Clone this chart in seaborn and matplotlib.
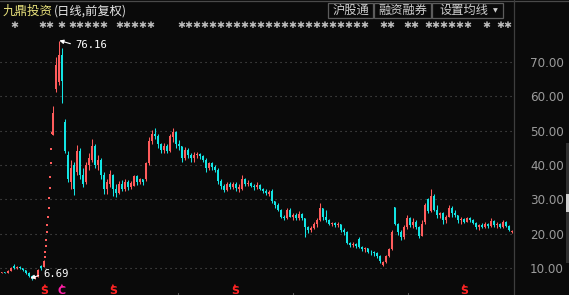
import numpy as np
import pandas as pd
import matplotlib
matplotlib.use("Agg")
import matplotlib.pyplot as plt
import seaborn as sns
from matplotlib.patches import Rectangle
from matplotlib.lines import Line2D

nan = float("nan")

# ---- data: one candle per slot (slots 15-16 are the run of limit-up days) ----
opens = [8.6, 8.8, 8.7, 9.2, 10.8, 10.0, 10.4, 10.1, 9.4, 8.6,
         7.8, 7.2, 7.5, 10.6, 10.5, nan, nan, 48.7, 62.0, 64.0,
         72.0, 52.5, 43.0, 35.0, 40.0, 38.0, 44.0, 37.0, 35.0, 40.0,
         41.5, 45.5, 40.0, 41.5, 37.0, 33.0, 34.5, 37.0, 33.0, 32.0,
         34.5, 33.0, 35.0, 33.5, 34.0, 36.8, 35.0, 35.8, 36.0, 40.5,
         47.0, 49.0, 48.5, 46.0, 44.5, 45.5, 44.0, 48.0, 49.5, 46.0,
         45.5, 42.0, 44.5, 43.0, 42.0, 43.0, 43.2, 42.5, 41.5, 39.0,
         40.5, 39.5, 38.5, 35.5, 34.0, 32.8, 34.5, 33.5, 34.5, 33.0,
         33.0, 36.0, 34.5, 34.8, 34.0, 33.5, 34.3, 33.0, 32.5, 31.5,
         32.5, 29.5, 28.5, 27.0, 25.0, 24.5, 27.0, 25.0, 25.5, 24.5,
         25.8, 24.5, 22.0, 21.0, 21.8, 23.0, 24.0, 27.5, 25.0, 24.0,
         23.0, 23.2, 22.5, 22.8, 21.0, 20.5, 17.3, 16.8, 17.2, 18.5,
         16.3, 15.5, 15.8, 14.8, 14.6, 14.3, 13.6, 11.0, 11.8, 13.5,
         15.5, 27.8, 23.0, 20.5, 19.0, 22.0, 24.5, 22.5, 23.5, 22.0,
         19.5, 23.5, 30.0, 26.5, 31.0, 27.0, 25.5, 26.0, 24.0, 25.0,
         27.5, 26.0, 25.5, 24.0, 24.3, 23.5, 24.5, 24.0, 23.2, 22.0,
         22.5, 22.0, 22.8, 22.2, 23.8, 22.5, 22.8, 22.0, 23.5, 22.3,
         20.4]

closes = [8.8, 8.7, 9.2, 10.0, 10.0, 10.4, 10.1, 9.4, 8.6, 7.8,
          7.3, 7.5, 9.5, 10.0, 12.1, nan, nan, 55.0, 69.0, 72.0,
          64.5, 44.0, 36.0, 39.0, 33.0, 44.0, 37.0, 34.5, 40.0, 42.0,
          45.5, 40.0, 41.5, 37.0, 33.0, 35.0, 37.5, 33.0, 32.0, 34.5,
          33.0, 35.0, 33.5, 34.8, 36.8, 35.0, 35.8, 35.0, 40.5, 47.0,
          49.0, 48.5, 46.0, 44.5, 45.5, 44.0, 48.5, 49.5, 46.0, 45.5,
          42.0, 44.5, 43.0, 42.0, 43.0, 43.2, 42.5, 41.5, 39.0, 40.5,
          39.5, 38.5, 35.5, 34.0, 32.8, 34.5, 33.5, 34.5, 33.2, 33.5,
          36.0, 34.5, 34.8, 34.0, 33.5, 34.3, 33.0, 32.5, 32.0, 32.3,
          29.5, 28.5, 27.0, 25.0, 24.5, 27.0, 25.0, 25.5, 24.5, 25.8,
          24.5, 22.0, 21.0, 21.8, 23.0, 24.0, 27.5, 25.0, 24.0, 23.0,
          23.2, 22.5, 22.8, 21.0, 20.5, 17.3, 16.8, 17.2, 16.6, 16.3,
          15.5, 15.8, 14.8, 14.6, 14.3, 13.6, 12.0, 11.8, 13.5, 15.5,
          20.5, 23.0, 20.5, 19.0, 22.0, 24.5, 22.5, 23.5, 22.0, 19.5,
          23.0, 28.5, 26.5, 31.0, 27.0, 25.5, 26.0, 24.0, 25.0, 27.5,
          26.0, 25.5, 24.0, 24.3, 23.5, 24.5, 24.0, 23.2, 22.0, 22.5,
          22.0, 22.8, 22.2, 23.8, 22.5, 22.8, 22.0, 23.5, 22.3, 21.2,
          20.8]

highs = [9.0, 9.0, 9.4, 10.3, 11.2, 10.6, 10.6, 10.2, 9.5, 8.8,
         8.0, 7.7, 9.8, 11.0, 12.4, nan, nan, 57.2, 71.5, 76.16,
         74.0, 53.4, 44.0, 41.5, 41.0, 45.8, 45.0, 39.0, 41.0, 43.5,
         47.5, 46.0, 43.0, 42.0, 38.0, 36.0, 38.5, 37.5, 34.5, 35.5,
         35.6, 35.8, 35.6, 35.5, 37.2, 37.0, 36.2, 36.0, 41.0, 48.0,
         50.2, 50.8, 49.0, 46.5, 46.4, 46.0, 49.0, 50.8, 49.8, 47.3,
         45.5, 45.2, 45.0, 43.5, 43.8, 43.8, 43.5, 43.0, 42.0, 41.0,
         41.0, 40.0, 39.0, 36.0, 34.5, 35.0, 35.0, 35.0, 35.0, 34.5,
         37.0, 36.2, 35.6, 35.2, 34.5, 35.0, 34.5, 33.3, 33.0, 32.8,
         33.0, 29.5, 29.0, 27.3, 25.5, 27.5, 27.5, 26.0, 26.0, 26.5,
         26.0, 24.5, 22.3, 22.3, 23.5, 24.5, 29.0, 27.5, 26.9, 24.2,
         23.5, 23.4, 23.4, 23.0, 21.7, 20.7, 17.5, 17.5, 17.4, 19.0,
         16.5, 16.2, 16.0, 15.2, 15.0, 14.7, 13.8, 12.0, 14.0, 16.0,
         21.0, 27.8, 23.2, 21.0, 22.5, 25.5, 25.0, 24.5, 24.0, 22.2,
         24.0, 29.0, 30.4, 33.0, 31.5, 28.4, 26.3, 26.3, 25.5, 28.4,
         28.2, 27.0, 25.6, 25.0, 24.6, 25.0, 25.0, 24.3, 23.4, 23.0,
         23.2, 23.4, 23.2, 24.5, 24.0, 23.4, 23.2, 24.0, 23.8, 22.5,
         21.2]

lows = [8.5, 8.5, 8.6, 9.1, 9.8, 9.8, 9.9, 9.2, 8.4, 7.6,
        6.69, 7.0, 7.4, 9.6, 10.3, nan, nan, 48.7, 61.3, 63.2,
        58.0, 43.5, 35.0, 33.0, 31.3, 37.0, 36.0, 33.5, 34.5, 38.5,
        41.0, 39.0, 38.5, 36.0, 31.5, 31.5, 33.5, 31.0, 30.7, 31.5,
        32.5, 32.5, 32.7, 33.0, 33.8, 34.2, 34.4, 34.2, 35.5, 40.0,
        46.0, 47.5, 45.0, 43.5, 43.5, 43.5, 43.8, 46.8, 45.0, 44.5,
        40.9, 41.5, 42.0, 40.9, 41.0, 42.0, 41.8, 41.0, 38.0, 38.5,
        38.6, 38.0, 34.5, 33.0, 32.2, 32.5, 33.0, 33.0, 32.5, 32.3,
        32.7, 34.0, 34.0, 33.5, 32.8, 33.0, 32.7, 31.8, 31.3, 31.0,
        29.0, 27.5, 26.5, 24.5, 24.0, 24.2, 24.8, 24.0, 24.0, 24.0,
        24.0, 19.0, 20.3, 20.5, 21.5, 22.0, 23.8, 24.0, 23.5, 22.5,
        22.2, 22.0, 22.0, 20.5, 19.7, 17.0, 16.2, 16.3, 16.0, 16.0,
        15.0, 14.8, 14.4, 14.0, 13.5, 13.0, 11.5, 10.8, 11.6, 13.3,
        15.3, 22.5, 19.8, 18.2, 18.5, 21.5, 22.0, 21.7, 21.5, 18.8,
        19.3, 23.0, 26.0, 26.3, 26.5, 24.6, 24.5, 23.0, 23.2, 24.8,
        25.0, 25.0, 23.2, 23.0, 23.2, 23.4, 23.4, 22.8, 21.5, 21.2,
        21.7, 21.7, 21.8, 22.0, 22.0, 21.8, 21.7, 21.7, 22.0, 20.8,
        20.2]

# one-price limit-up days (open = high = low = close)
limit_up_day = [14.5, 14.6, 14.83, 14.93, 15.27, 15.33, 15.6, 15.67, 15.93,
                16.17, 16.23, 16.4, 16.5, 16.73]
limit_up_price = [13.4, 14.8, 16.6, 18.2, 20.5, 22.6, 24.8, 27.4, 30.3,
                  33.2, 36.6, 40.5, 44.7, 49.2]

price_ticks = [10, 20, 30, 40, 50, 60, 70]
tick_labels = ["10.00", "20.00", "30.00", "40.00", "50.00", "60.00", "70.00"]

peak_day, peak_price, peak_label = 19, 76.16, "76.16"
low_day, low_price, low_label = 10, 6.69, "6.69"

title_name = "九鼎投资"
title_mode = "(日线,前复权)"
buttons = ["沪股通", "融资融券", "设置均线"]
signal_labels = ["S", "C", "S", "S", "S"]

# ---- style ----
BG = "#0a0a0a"
UP = "#ff5c5c"
DOWN = "#12e4e4"
GRID = "#585858"

sns.set_theme(style="dark", rc={"axes.facecolor": BG, "figure.facecolor": BG})
plt.rcParams["font.family"] = ["DejaVu Sans", "Noto Sans CJK SC"]

W, H = 569, 295
fig = plt.figure(figsize=(W / 100, H / 100), dpi=100, facecolor=BG)
ax = fig.add_axes([0, 0, 513 / W, (H - 36) / H])
ax.set_facecolor(BG)


def fx(x):
    return x / W


def fy(y):
    return 1 - y / H


df = pd.DataFrame({"open": opens, "close": closes, "high": highs, "low": lows})
df["day"] = np.arange(len(df))
df = df.dropna()
up = df["close"] >= df["open"]
cols = np.where(up, UP, DOWN)

ax.vlines(df["day"], df["low"], df["high"], colors=cols, linewidth=0.75, zorder=3)
body_lo = np.minimum(df["open"], df["close"])
body_h = np.maximum(np.abs(df["close"] - df["open"]), 0.2)
ax.bar(df["day"], body_h, bottom=body_lo, width=0.62, color=cols, linewidth=0, zorder=3)

sns.scatterplot(x=limit_up_day, y=limit_up_price, ax=ax, color=UP, marker="s",
                s=2.5, linewidth=0, legend=False, zorder=3)

for v in price_ticks:
    ax.axhline(v, color=GRID, lw=0.8, ls=(0, (1, 3.5)), zorder=1)

ax.set_xlim(-0.5, 170.5)
ax.set_ylim(2.245, 77.47)
ax.set_xticks([])
ax.yaxis.tick_right()
ax.set_yticks(price_ticks)
ax.set_yticklabels(tick_labels)
ax.tick_params(axis="y", length=0, pad=12.2, labelsize=8.6, labelcolor="#9c9c9c")
ax.grid(False)
for s in ax.spines.values():
    s.set_visible(False)

# extreme annotations
ann_kw = dict(color="white", fontsize=7.6, family="DejaVu Sans Mono", ha="left", va="center",
              annotation_clip=False)
ax.annotate(peak_label, xy=(peak_day + 0.3, peak_price), xytext=(24.5, 74.85),
            arrowprops=dict(arrowstyle="-|>", color="white", lw=0.8, mutation_scale=6,
                            shrinkA=1, shrinkB=0, relpos=(0, 0.5)), **ann_kw)
ax.annotate(low_label, xy=(low_day - 0.4, low_price + 0.4), xytext=(13.9, 8.34),
            arrowprops=dict(arrowstyle="-|>", color="white", lw=0.8, mutation_scale=6,
                            shrinkA=1, shrinkB=0, relpos=(0, 0.5)), **ann_kw)

# ---- header ----
cjk = ["Noto Sans CJK SC", "DejaVu Sans"]
fig.text(fx(3), fy(11.5), title_name, color="#e9e27c", fontsize=9, family=cjk, va="center")
fig.text(fx(54), fy(11.5), title_mode, color="#e6e6e6", fontsize=8.8, family=cjk, va="center")

# masked indicator row
star_x = [10, 38, 57, 68, 115, 177, 379, 403, 424, 482, 496]
star_w = [6, 13, 7, 42, 37, 196, 16, 16, 53, 4, 17]
for x0, w in zip(star_x, star_w):
    n = max(1, int(round(w / 8.2)))
    fig.text(fx(x0), fy(25), "\u2731" * n, color="#bcbcbc", fontsize=6.8,
             family="DejaVu Sans", va="center")

# buttons
boxes = [(328, 373), (374, 431), (432, 503)]
txt_cx = [350.5, 402.5, 463.5]
for (x0, x1), cx, lab in zip(boxes, txt_cx, buttons):
    fig.add_artist(Rectangle((fx(x0), fy(18)), (x1 - x0) / W, 15 / H, transform=fig.transFigure,
                             fill=False, edgecolor="#5c5c5c", lw=0.9))
    fig.text(fx(cx), fy(10.8), lab, color="#cfcfcf", fontsize=8.8, family=cjk,
             ha="center", va="center")
fig.text(fx(495.5), fy(11), "▼", color="#cfcfcf", fontsize=4.5, family="DejaVu Sans",
         ha="center", va="center")

# frame lines
fig.add_artist(Line2D([0, 1], [fy(0.7), fy(0.7)], transform=fig.transFigure, color="#4a4a4a", lw=0.9))
fig.add_artist(Line2D([fx(513.5), fx(513.5)], [0, 1], transform=fig.transFigure, color="#3e3e3e", lw=0.9))
fig.add_artist(Rectangle((fx(565.5), fy(263)), 3.5 / W, 120 / H, transform=fig.transFigure,
                         facecolor="#303030", edgecolor="none"))
fig.add_artist(Rectangle((fx(566), fy(212)), 3 / W, 18 / H, transform=fig.transFigure,
                         facecolor="#d0d0d0", edgecolor="none"))
for tx in [178, 293, 408]:
    fig.add_artist(Line2D([fx(tx), fx(tx)], [0, fy(292.5)], transform=fig.transFigure,
                          color="#5a5a5a", lw=0.8))

# bottom signal markers
sig_x = [44.6, 61.7, 112.9, 234.8, 463.9]
sig_col = ["#ff2424", "#ff1fa6", "#ff2424", "#ff2424", "#ff2424"]
for x0, lab, c in zip(sig_x, signal_labels, sig_col):
    fig.text(fx(x0), fy(285), "▲", color=c, fontsize=3.6, family="DejaVu Sans", ha="center", va="center")
    fig.text(fx(x0), fy(291.5), lab, color=c, fontsize=8, fontweight="bold", family="DejaVu Sans",
             ha="center", va="center")

fig.savefig("out.png", dpi=100, facecolor=BG)
